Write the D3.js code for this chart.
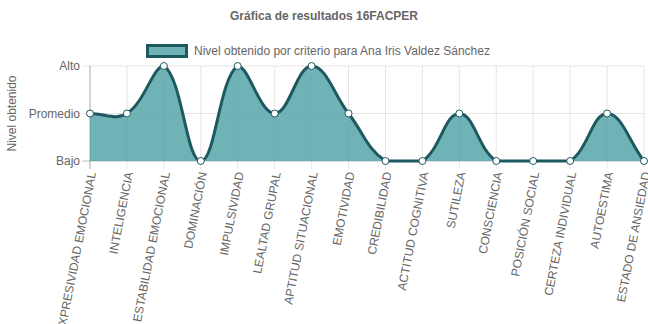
<!DOCTYPE html>
<html>
<head>
<meta charset="utf-8">
<script src="https://cdn.jsdelivr.net/npm/d3@7"></script>
<style>
  body { margin: 0; background: #fff; }
  text { font-family: "Liberation Sans", Arial, sans-serif; fill: #666; }
</style>
</head>
<body>
<div id="chart"></div>
<script>
var criterios = ["EXPRESIVIDAD EMOCIONAL", "INTELIGENCIA", "ESTABILIDAD EMOCIONAL", "DOMINACIÓN",
  "IMPULSIVIDAD", "LEALTAD GRUPAL", "APTITUD SITUACIONAL", "EMOTIVIDAD", "CREDIBILIDAD",
  "ACTITUD COGNITIVA", "SUTILEZA", "CONSCIENCIA", "POSICIÓN SOCIAL", "CERTEZA INDIVIDUAL",
  "AUTOESTIMA", "ESTADO DE ANSIEDAD"];
// 0 = Bajo, 1 = Promedio, 2 = Alto
var niveles = [1, 1, 2, 0, 2, 1, 2, 1, 0, 0, 1, 0, 0, 0, 1, 0];
var nivelLabels = ["Bajo", "Promedio", "Alto"];

var W = 648, H = 324;
var area = {left: 90, right: 644, top: 66, bottom: 161};

var svg = d3.select("#chart").append("svg")
  .attr("width", W).attr("height", H);

var x = d3.scalePoint().domain(criterios).range([area.left, area.right]);
var y = d3.scaleLinear().domain([0, 2]).range([area.bottom, area.top]);

// grid
svg.append("g").selectAll("line").data(criterios).enter().append("line")
  .attr("x1", d => x(d)).attr("x2", d => x(d))
  .attr("y1", area.top).attr("y2", area.bottom + 8)
  .attr("stroke", "rgba(0,0,0,0.1)");
svg.append("g").selectAll("line").data([0, 1, 2]).enter().append("line")
  .attr("x1", area.left - 8).attr("x2", area.right)
  .attr("y1", d => y(d)).attr("y2", d => y(d))
  .attr("stroke", d => d == 0 ? "rgba(0,0,0,0.25)" : "rgba(0,0,0,0.1)");
svg.append("line")
  .attr("x1", area.left).attr("x2", area.left)
  .attr("y1", area.top).attr("y2", area.bottom + 8)
  .attr("stroke", "rgba(0,0,0,0.25)");

// y tick labels
svg.append("g").selectAll("text").data([0, 1, 2]).enter().append("text")
  .attr("x", area.left - 10).attr("y", d => y(d)).attr("dy", "0.35em")
  .attr("text-anchor", "end").style("font-size", "12px")
  .text(d => nivelLabels[d]);

// y axis title
svg.append("text")
  .attr("transform", "translate(16," + ((area.top + area.bottom) / 2) + ") rotate(-90)")
  .attr("text-anchor", "middle").style("font-size", "12px")
  .text("Nivel obtenido");

// x tick labels
svg.append("g").selectAll("text").data(criterios).enter().append("text")
  .attr("transform", d => "translate(" + (x(d) + 2) + "," + (area.bottom + 11) + ") rotate(-79)")
  .attr("text-anchor", "end").attr("dy", "0.35em").style("font-size", "12px")
  .text(d => d);

// spline like chart.js (tension 0.4, capped to chart area)
var pts = niveles.map((v, i) => ({x: x(criterios[i]), y: y(v)}));
var tension = 0.4;
pts.forEach(function(p, i) {
  var prev = pts[Math.max(i - 1, 0)], next = pts[Math.min(i + 1, pts.length - 1)];
  var d01 = Math.hypot(p.x - prev.x, p.y - prev.y);
  var d12 = Math.hypot(next.x - p.x, next.y - p.y);
  var s01 = d01 / (d01 + d12) || 0, s12 = d12 / (d01 + d12) || 0;
  var fa = tension * s01, fb = tension * s12;
  p.cpPrev = {x: p.x - fa * (next.x - prev.x), y: p.y - fa * (next.y - prev.y)};
  p.cpNext = {x: p.x + fb * (next.x - prev.x), y: p.y + fb * (next.y - prev.y)};
  [p.cpPrev, p.cpNext].forEach(function(c) {
    c.x = Math.max(area.left, Math.min(area.right, c.x));
    c.y = Math.max(area.top, Math.min(area.bottom, c.y));
  });
});
function splinePath(closeArea) {
  var p = d3.path();
  p.moveTo(pts[0].x, pts[0].y);
  for (var i = 1; i < pts.length; i++) {
    p.bezierCurveTo(pts[i - 1].cpNext.x, pts[i - 1].cpNext.y, pts[i].cpPrev.x, pts[i].cpPrev.y, pts[i].x, pts[i].y);
  }
  if (closeArea) {
    p.lineTo(pts[pts.length - 1].x, y(0));
    p.lineTo(pts[0].x, y(0));
    p.closePath();
  }
  return p.toString();
}

svg.append("path").attr("d", splinePath(true))
  .attr("fill", "rgba(75,160,164,0.8)");
svg.append("path").attr("d", splinePath(false))
  .attr("fill", "none").attr("stroke", "#1f5960").attr("stroke-width", 3);

svg.append("g").selectAll("circle").data(pts).enter().append("circle")
  .attr("cx", d => d.x).attr("cy", d => d.y).attr("r", 3.5)
  .attr("fill", "#fff").attr("stroke", "#1f5960").attr("stroke-width", 1);

// title
svg.append("text").attr("x", W / 2).attr("y", 20)
  .attr("text-anchor", "middle").style("font-size", "12px").style("font-weight", "bold")
  .text("Gráfica de resultados 16FACPER");

// legend
svg.append("rect").attr("x", 147.5).attr("y", 45.5).attr("width", 39).attr("height", 11)
  .attr("fill", "rgba(75,160,164,0.8)").attr("stroke", "#1f5960").attr("stroke-width", 3);
svg.append("text").attr("x", 194).attr("y", 50.5).attr("dy", "0.35em")
  .style("font-size", "12px")
  .text("Nivel obtenido por criterio para Ana Iris Valdez Sánchez");
</script>
</body>
</html>
